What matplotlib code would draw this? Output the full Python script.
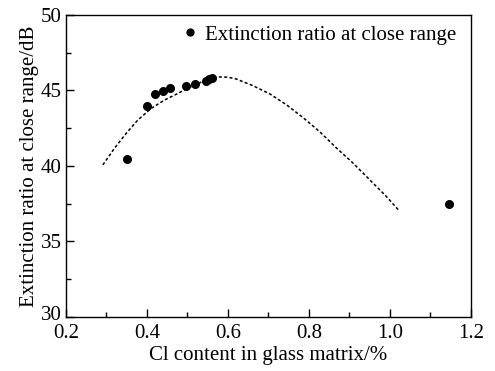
import matplotlib.pyplot as plt
import matplotlib.transforms as mtransforms

plt.rcParams['font.family'] = ['Liberation Serif', 'DejaVu Serif']

# Measured extinction ratio vs Cl content
cl_content = [0.35, 0.40, 0.42, 0.44, 0.457, 0.498, 0.519, 0.546, 0.554, 0.56, 1.147]
extinction = [40.46, 43.97, 44.75, 44.99, 45.15, 45.3, 45.43, 45.63, 45.74, 45.85, 37.48]

# Fitted trend (dashed)
fit_x = [0.2914, 0.320, 0.349, 0.378, 0.411, 0.444, 0.477, 0.509, 0.545, 0.575, 0.60,
         0.621, 0.662, 0.704, 0.745, 0.786, 0.827, 0.868, 0.909, 0.95, 0.992, 1.023]
fit_y = [40.07, 41.17, 42.16, 43.05, 43.82, 44.37, 44.81, 45.25, 45.68, 45.9, 45.88,
         45.76, 45.32, 44.77, 44.05, 43.2, 42.27, 41.2, 40.2, 39.1, 37.97, 37.04]

fig = plt.figure(figsize=(4.95, 3.71), dpi=100)
ax = fig.add_axes([0.133, 0.1456, 0.818, 0.814])

ax.plot(fit_x, fit_y, color='black', linestyle=(0, (2, 1.5)), linewidth=1.1)
ax.plot(cl_content, extinction, 'o', color='black', markersize=5.5,
        label='Extinction ratio at close range')

ax.set_xlim(0.2, 1.2)
ax.set_ylim(30, 50)
ax.set_xticks([0.2, 0.4, 0.6, 0.8, 1.0, 1.2])
ax.set_xticks([0.3, 0.5, 0.7, 0.9, 1.1], minor=True)
ax.set_yticks([30, 35, 40, 45, 50])
ax.set_yticks([32.5, 37.5, 42.5, 47.5], minor=True)
ax.tick_params(which='both', direction='in', labelsize=15, width=1)
ax.tick_params(which='major', length=6)
ax.tick_params(which='minor', length=3.5)
ax.tick_params(axis='x', which='major', pad=5)
ax.tick_params(axis='y', which='major', pad=3)
for s in ax.spines.values():
    s.set_linewidth(1)

# lift the bottom y label a little so it clears the first x label
lab30 = ax.get_yticklabels()[0]
lab30.set_transform(lab30.get_transform() +
                    mtransforms.ScaledTranslation(0, 3 / 72, fig.dpi_scale_trans))

ax.set_xlabel('Cl content in glass matrix/%', fontsize=15, labelpad=2)
ax.set_ylabel('Extinction ratio at close range/dB', fontsize=15, labelpad=1)

ax.legend(loc='upper right', bbox_to_anchor=(1.0, 1.015), frameon=False,
          fontsize=15, handlelength=0.6, handletextpad=0.4, borderaxespad=0.3,
          markerscale=0.9)

fig.savefig('out.png', dpi=100)
